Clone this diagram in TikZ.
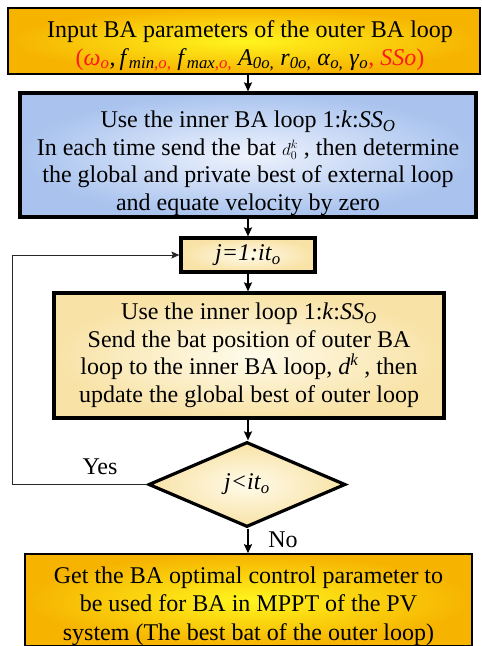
\documentclass[tikz,border=0pt]{standalone}
\usepackage{fontspec}
\setmainfont{Liberation Serif}
\usetikzlibrary{shapes.geometric,arrows.meta}

\definecolor{gold}{HTML}{F6B300}
\definecolor{goldlight}{HTML}{FFF51E}
\definecolor{skyedge}{HTML}{A9C3EE}
\definecolor{skycenter}{HTML}{EEF3FD}
\definecolor{creamedge}{HTML}{F8E2A6}
\definecolor{creamcenter}{HTML}{FFFBEA}
\definecolor{hotred}{HTML}{FF1A1A}

\newcommand{\sbi}[1]{\textsubscript{\itshape #1}}
\newcommand{\spi}[1]{\textsuperscript{\itshape #1}}
% invisible strut that pushes a text block down inside its box
\newcommand{\lowerby}[1]{\rule{0pt}{#1}}

\tikzset{
  box/.style={draw=black, rectangle, inner sep=0pt, align=center,
              font=\fontsize{24}{27.5}\selectfont},
  goldbox/.style={box, inner color=goldlight, outer color=gold, line width=1.8pt},
  skybox/.style={box, inner color=skycenter, outer color=skyedge, line width=3.2pt},
  creambox/.style={box, inner color=creamcenter, outer color=creamedge, line width=3.2pt},
  decision/.style={diamond, draw=black, inner sep=0pt, line width=3.2pt,
              inner color=creamcenter, outer color=creamedge,
              font=\fontsize{24}{27.5}\selectfont},
  flow/.style={-{Stealth[length=9pt,width=8pt,inset=1.5pt]}, line width=1.8pt},
  back/.style={-{Stealth[length=8pt,width=7pt,inset=1.5pt]}, line width=1pt, draw=black!85},
  tag/.style={font=\fontsize{24}{27.5}\selectfont, inner sep=0pt}
}

\begin{document}
\begin{tikzpicture}[x=1pt,y=-1pt]
\useasboundingbox (0,0) rectangle (482,646);

\node[goldbox, minimum width=472pt, minimum height=66pt] (input) at (244,41)
  {\lowerby{27pt}\hspace*{12pt}Input BA parameters of the outer BA loop\\
   \hspace*{12pt}{\color{hotred}(\textit{ω}\sbi{o}},\,\textit{f}\sbi{min{\color{hotred},o,}}
   \textit{f}\sbi{max{\color{hotred},o,}} \textit{A}\sbi{0o,}
   \textit{r}\sbi{0o,} \textit{α}\sbi{o,} \textit{γ}\sbi{o}{\color{hotred}, \textit{SSo})}};

\node[skybox, minimum width=456pt, minimum height=124pt] (init) at (248,155)
  {\lowerby{33pt}Use the inner BA loop 1:\textit{k}:\textit{SS}\sbi{O}\\
   In each time send the bat ${\scriptstyle d_0^k}$ , then determine\\
   the global and private best of external loop\\
   and equate velocity by zero};

\node[creambox, minimum width=134pt, minimum height=34pt] (iter) at (248,255)
  {\textit{j=1:it}\sbi{o}};

\node[creambox, minimum width=390pt, minimum height=125pt] (inner) at (249,355.5)
  {Use the inner loop 1:\textit{k}:\textit{SS}\sbi{O}\\
   Send the bat position of outer BA\\
   loop to the inner BA loop, \textit{d}\spi{k} , then\\
   update the global best of outer loop};

\node[decision, minimum width=197pt, minimum height=85pt] (test) at (247,484.5)
  {\textit{j<it}\sbi{o}};

\node[goldbox, minimum width=447pt, minimum height=92pt, line width=1.5pt,
      font=\fontsize{24}{28.5}\selectfont] (result) at (248.5,600)
  {\lowerby{29pt}Get the BA optimal control parameter to\\
   be used for BA in MPPT of the PV\\
   system (The best bat of the outer loop)};

\coordinate (loopbottom) at (12,484.5);
\coordinate (looptop) at (12,255);

\draw[flow] (input.south -| init.north) -- (init.north);
\draw[flow] (init.south) -- (iter.north);
\draw[flow] (iter.south) -- (inner.north -| iter.south);
\draw[flow] (inner.south -| iter.south) -- (test.north -| iter.south);
\draw[flow] (test.south -| iter.south) -- (result.north -| iter.south);
\draw[back] (test.west) -- (loopbottom) -- (looptop) -- (iter.west);

\node[tag] (yes) at (100,467) {Yes};
\node[tag] (no) at (283,540) {No};
\end{tikzpicture}
\end{document}
